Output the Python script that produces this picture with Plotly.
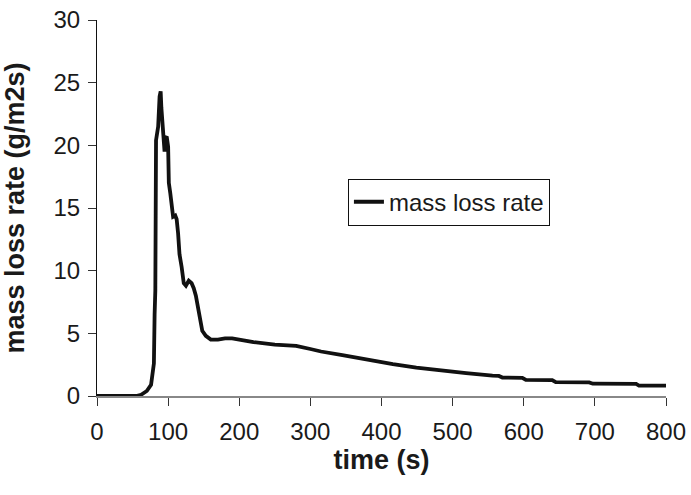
import plotly.graph_objects as go

time_s = [0, 55, 62, 70, 76, 79, 80, 81, 82, 83, 84, 86, 88, 89.5, 90.5, 91.5, 93, 95, 96, 98,
          100, 101, 103, 105, 107, 110, 112, 114, 116, 119, 122, 125, 129, 133, 136, 139, 142,
          145, 148, 153, 160, 170, 180, 190, 200, 220, 250, 280, 300, 315, 345, 378, 416, 449,
          486, 519, 556, 565, 570, 598, 603, 640, 645, 692, 697, 758, 762, 800]
mass_loss_rate = [0, 0, 0.1, 0.4, 0.9, 2.3, 2.6, 6.5, 8.4, 20.4, 21.0, 21.5, 23.9, 24.3, 23.0,
                  22.3, 21.2, 19.5, 20.6, 20.7, 19.9, 17.0, 16.2, 15.1, 14.3, 14.4, 14.1, 13.0,
                  11.3, 10.3, 9.0, 8.8, 9.2, 9.0, 8.6, 8.0, 7.0, 5.8, 5.2, 4.8, 4.5, 4.5, 4.6,
                  4.6, 4.5, 4.3, 4.1, 4.0, 3.75, 3.55, 3.27, 2.9, 2.55, 2.27, 2.0, 1.82, 1.62,
                  1.6, 1.47, 1.45, 1.28, 1.27, 1.1, 1.08, 0.98, 0.96, 0.83, 0.82]

x_ticks = [0, 100, 200, 300, 400, 500, 600, 700, 800]
y_ticks = [0, 5, 10, 15, 20, 25, 30]

font_family = "Liberation Sans, Arial, sans-serif"
text_color = "#1a1a1a"

fig = go.Figure()
fig.add_trace(go.Scatter(
    x=time_s, y=mass_loss_rate, mode="lines", name="mass loss rate",
    line=dict(color="#111111", width=3.8),
))

fig.update_layout(
    width=691, height=495,
    margin=dict(l=97, r=25, t=20, b=99),
    paper_bgcolor="white", plot_bgcolor="white",
    font=dict(family=font_family, size=24, color=text_color),
    showlegend=True,
    legend=dict(
        x=0.441, y=0.578, xanchor="left", yanchor="top",
        bordercolor="#111111", borderwidth=1, bgcolor="white",
        font=dict(size=24, family=font_family, color=text_color),
        itemwidth=30, tracegroupgap=0,
    ),
    xaxis=dict(
        range=[0, 800], tickvals=x_ticks, ticktext=[str(v) for v in x_ticks],
        showgrid=False, zeroline=False, automargin=False,
        showline=True, linecolor="#888888", linewidth=1.5,
        ticks="outside", ticklen=8, tickcolor="#333333", tickwidth=1,
        tickfont=dict(size=24), ticklabelstandoff=5,
        title=dict(text="<b>time (s)</b>", font=dict(size=27), standoff=2),
    ),
    yaxis=dict(
        range=[0, 30], tickvals=y_ticks, ticktext=[str(v) for v in y_ticks],
        showgrid=False, zeroline=False, automargin=False,
        showline=True, linecolor="#111111", linewidth=1,
        ticks="outside", ticklen=8, tickcolor="#333333", tickwidth=1,
        tickfont=dict(size=24), ticklabelstandoff=3,
        title=dict(text="<b>mass loss rate (g/m2s)</b>", font=dict(size=27), standoff=22),
    ),
)

fig.write_html("out.html")
